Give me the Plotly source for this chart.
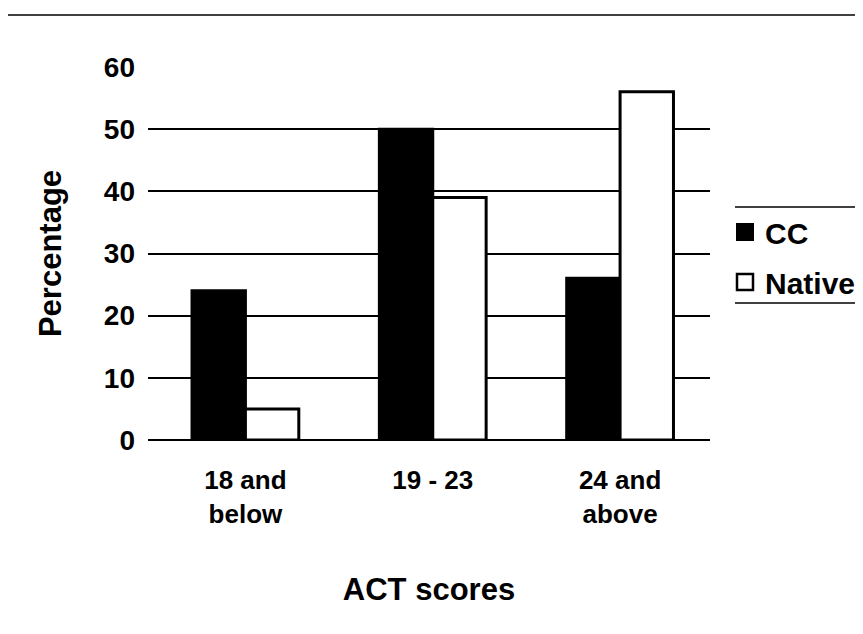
import plotly.graph_objects as go

categories = ["18 and<br>below", "19 - 23", "24 and<br>above"]
cc_values = [24, 50, 26]
native_values = [5, 39, 56]
y_ticks = [0, 10, 20, 30, 40, 50, 60]
series_names = ["CC", "Native"]

FONT = "Liberation Sans, Arial, sans-serif"

# page body offset (screen px) compensation
OFF = 8
W, H = 863 - OFF, 634 - OFF
L, R_edge, T, B_edge = 148 - OFF, 710 - OFF, 67 - OFF, 440 - OFF
PW, PH = R_edge - L, B_edge - T


def px_x(x):
    return (x - OFF - L) / PW


def px_y(y):
    return (B_edge - (y - OFF)) / PH


fig = go.Figure()
fig.add_trace(go.Bar(name=series_names[0], x=categories, y=cc_values, showlegend=False,
                     marker=dict(color="black", line=dict(color="black", width=3))))
fig.add_trace(go.Bar(name=series_names[1], x=categories, y=native_values, showlegend=False,
                     marker=dict(color="white", line=dict(color="black", width=3))))
# legend entries
fig.add_trace(go.Scatter(name="<b>" + series_names[0] + "</b>", x=[None], y=[None], mode="markers",
                         legendgroup="g1",
                         marker=dict(symbol="square", size=16, color="black",
                                     line=dict(color="black", width=2))))
fig.add_trace(go.Scatter(name="<b>" + series_names[1] + "</b>", x=[None], y=[None], mode="markers",
                         legendgroup="g2",
                         marker=dict(symbol="square", size=16, color="white",
                                     line=dict(color="black", width=2.5))))

fig.update_layout(
    width=W, height=H,
    paper_bgcolor="white", plot_bgcolor="white",
    margin=dict(l=L, r=W - R_edge, t=T, b=H - B_edge, autoexpand=False),
    barmode="group", bargap=0.43, bargroupgap=0,
    font=dict(family=FONT, size=26, color="black"),
    showlegend=True,
    legend=dict(x=px_x(725), y=px_y(257), xanchor="left", yanchor="middle",
                font=dict(family=FONT, size=30, color="black"),
                itemsizing="trace", itemwidth=30,
                traceorder="grouped", tracegroupgap=8,
                bgcolor="rgba(0,0,0,0)"),
    xaxis=dict(showline=False, showgrid=False, ticks="",
               range=[-0.52, 2.48],
               tickvals=categories,
               ticktext=["<b>" + c.replace("<br>", "</b><br><b>") + "</b>" for c in categories],
               tickfont=dict(family=FONT, size=26, color="black"),
               ticklabelstandoff=22,
               title=dict(text="<b>ACT scores</b>", font=dict(family=FONT, size=31, color="black"),
                          standoff=50)),
    yaxis=dict(range=[0, 60], tickvals=y_ticks, ticktext=["<b>%d</b>" % v for v in y_ticks],
               showgrid=True, gridcolor="black", gridwidth=1.5,
               zeroline=True, zerolinecolor="black", zerolinewidth=1.5, showline=False,
               ticks="", ticklabelstandoff=12,
               tickfont=dict(family=FONT, size=28, color="black"),
               title=dict(text="<b>Percentage</b>", font=dict(family=FONT, size=31, color="black"),
                          standoff=32)),
)

# decorative rules
rule = dict(color="black", width=1.5)
fig.add_shape(type="line", xref="paper", yref="paper", x0=px_x(0), x1=px_x(870),
              y0=px_y(15), y1=px_y(15), line=rule)
fig.add_shape(type="line", xref="paper", yref="paper", x0=px_x(735), x1=px_x(870),
              y0=px_y(207), y1=px_y(207), line=rule)
fig.add_shape(type="line", xref="paper", yref="paper", x0=px_x(735), x1=px_x(870),
              y0=px_y(303), y1=px_y(303), line=rule)

fig.write_html("out.html")
